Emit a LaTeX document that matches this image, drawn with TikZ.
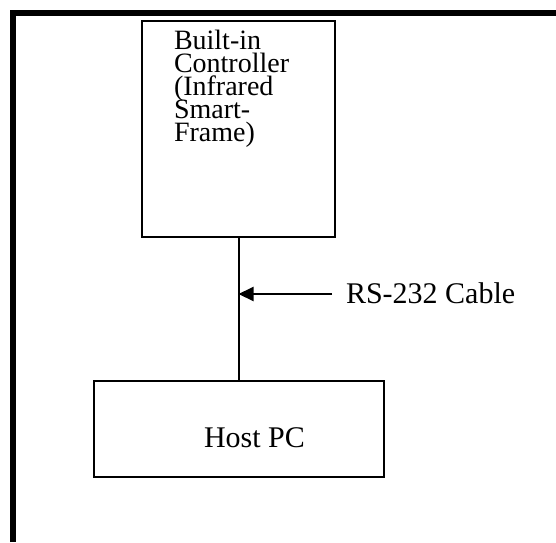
\documentclass[tikz,border=0pt]{standalone}
\usepackage{fontspec}
\setmainfont{Liberation Serif}
\usetikzlibrary{arrows.meta}
\setlength{\lineskiplimit}{-30pt}

\tikzset{
  box/.style={draw, line width=2pt, inner sep=0pt},
  lbl/.style={inner sep=0pt, font=\fontsize{30}{22.5}\selectfont},
  boxtext/.style={inner sep=0pt, align=left, font=\fontsize{28}{23}\selectfont}
}

\begin{document}
\begin{tikzpicture}[x=1pt, y=-1pt, >={Triangle[length=15pt,width=14pt]}, line width=2pt]
\useasboundingbox (0,0) rectangle (556,542);
% frame round the page
\draw[line width=6pt] (13,542)--(13,13)--(556,13);

\node[box, minimum width=193pt, minimum height=216pt] (ctrl) at (238.5,129) {};
\node[boxtext, anchor=north west] (ctrltext) at (173,29)
	{Built-in\\Controller\\(Infrared\\Smart-\\Frame)};

\node[box, minimum width=290pt, minimum height=96pt] (pc) at (239,429) {};
\node[lbl, anchor=base west] (pctext) at (203,447) {Host PC};

\coordinate (cable) at (ctrl.south |- 0,294);
\draw (ctrl.south)--(pc.north -| ctrl.south);

\node[lbl, anchor=base west] (rs) at (345,303) {RS-232 Cable};
\coordinate (tail) at (332,294);
\draw[->] (tail)--(cable);
\end{tikzpicture}
\end{document}
